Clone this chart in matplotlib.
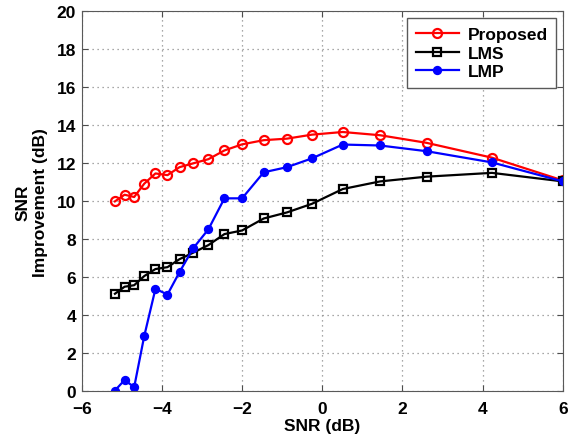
import matplotlib
matplotlib.use("Agg")
import matplotlib.pyplot as plt

snr = [-5.17, -4.93, -4.69, -4.44, -4.16, -3.86, -3.56, -3.22, -2.84, -2.44,
       -2.0, -1.46, -0.88, -0.26, 0.51, 1.44, 2.6, 4.23, 6.0]
proposed = [10.0, 10.35, 10.23, 10.93, 11.47, 11.38, 11.8, 12.0, 12.22, 12.68,
            13.0, 13.22, 13.3, 13.51, 13.65, 13.48, 13.08, 12.3, 11.1]
lms = [5.14, 5.51, 5.59, 6.07, 6.44, 6.54, 6.96, 7.3, 7.7, 8.28,
       8.47, 9.1, 9.42, 9.87, 10.65, 11.05, 11.3, 11.5, 11.05]
lmp = [0.05, 0.6, 0.23, 2.91, 5.4, 5.1, 6.28, 7.53, 8.53, 10.16,
       10.16, 11.53, 11.8, 12.26, 12.99, 12.94, 12.64, 12.05, 11.05]

xticks = [-6, -4, -2, 0, 2, 4, 6]
yticks = [0, 2, 4, 6, 8, 10, 12, 14, 16, 18, 20]

plt.rcParams['font.family'] = ['Liberation Sans', 'DejaVu Sans']
plt.rcParams['font.weight'] = 'bold'

fig = plt.figure(figsize=(5.75, 4.39), dpi=100)
ax = fig.add_axes([0.142, 0.106, 0.837, 0.866])

ax.plot(snr, proposed, '-o', color='#ff0000', lw=1.6, ms=6.5, mfc='none', mew=1.6, label='Proposed')
ax.plot(snr, lms, '-s', color='black', lw=1.6, ms=5.5, mfc='none', mew=1.6, label='LMS')
ax.plot(snr, lmp, '-o', color='#0000ff', lw=1.6, ms=5.5, mfc='#0000ff', mew=1.2, label='LMP')

ax.set_xlim(-6, 6)
ax.set_ylim(0, 20)
ax.set_xticks(xticks)
ax.set_yticks(yticks)
ax.set_xticklabels(['\u2212' + str(-t) if t < 0 else str(t) for t in xticks])
ax.grid(True, linestyle=(0, (1, 3)), color='0.55', linewidth=0.9)
ax.tick_params(direction='in', top=True, right=True, labelsize=12.5, length=4, color='0.3')
ax.tick_params(axis='x', pad=7)
ax.tick_params(axis='y', pad=4)
for lab in ax.get_xticklabels() + ax.get_yticklabels():
    lab.set_fontweight('bold')
for s in ax.spines.values():
    s.set_color('0.35')

ax.set_xlabel('SNR (dB)', fontsize=12.5, fontweight='bold', labelpad=1)
ax.set_ylabel('SNR\nImprovement (dB)', fontsize=12.5, fontweight='bold', labelpad=6)

leg = ax.legend(loc='upper right', fontsize=12.5, frameon=True, fancybox=False,
                edgecolor='0.35', framealpha=1, handlelength=2.45, handletextpad=0.5,
                borderpad=0.5, labelspacing=0.2, borderaxespad=0,
                bbox_to_anchor=(0.986, 0.982))
leg.get_frame().set_linewidth(1.0)

fig.savefig('out.png', dpi=100)
